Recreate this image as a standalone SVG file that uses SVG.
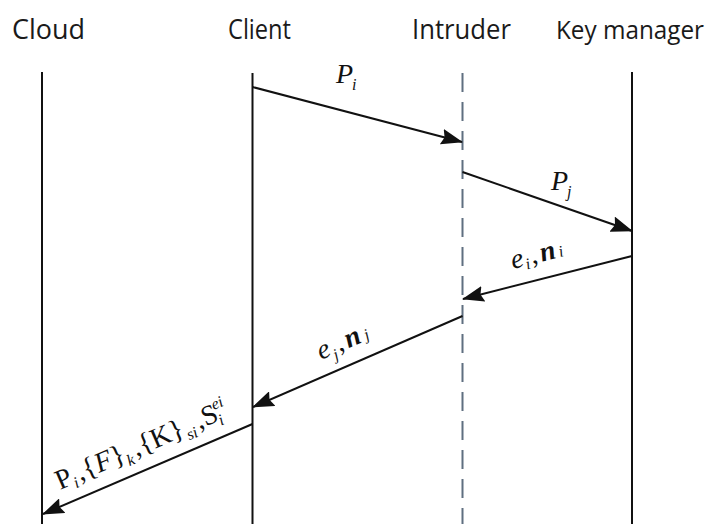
<svg xmlns="http://www.w3.org/2000/svg" width="718" height="524" viewBox="0 0 718 524">
  <style>
    .title { font-family: "Open Sans", "Liberation Sans", sans-serif; font-size: 27px; fill: #1a1a1a; }
    .life { stroke: #111; stroke-width: 2; fill: none; }
    .dash { stroke: #5f6f80; stroke-width: 2; stroke-dasharray: 19 10; fill: none; }
    .msg { stroke: #111; stroke-width: 2; fill: none; marker-end: url(#head); }
    .m { font-family: "Liberation Serif", "Times New Roman", serif; font-style: italic; font-size: 28px; fill: #111; }
    .s { font-size: 16px; }
    .u { font-style: normal; }
    .b { font-weight: bold; }
  </style>
  <defs>
    <marker id="head" viewBox="0 0 22 16" markerWidth="22" markerHeight="16" refX="21" refY="8" orient="auto" markerUnits="userSpaceOnUse">
      <path d="M0,0 L22,8 L0,16 L3,8 z" fill="#111"/>
    </marker>
  </defs>

  <rect width="718" height="524" fill="#fff"/>

  <!-- participants with lifelines -->
  <g id="cloud">
    <text class="title" x="12" y="39" textLength="73" lengthAdjust="spacingAndGlyphs">Cloud</text>
    <line class="life" x1="42" y1="72" x2="42" y2="524"/>
  </g>
  <g id="client">
    <text class="title" x="228" y="39" textLength="63" lengthAdjust="spacingAndGlyphs">Client</text>
    <line class="life" x1="252.5" y1="73" x2="252.5" y2="524"/>
  </g>
  <g id="intruder">
    <text class="title" x="412" y="39" textLength="99" lengthAdjust="spacingAndGlyphs">Intruder</text>
    <line class="dash" x1="462.5" y1="73" x2="462.5" y2="524"/>
  </g>
  <g id="key-manager">
    <text class="title" x="556" y="39" style="font-size:25.5px" textLength="148" lengthAdjust="spacingAndGlyphs">Key manager</text>
    <line class="life" x1="632" y1="72" x2="632" y2="524"/>
  </g>

  <!-- messages -->
  <g id="connectors">
    <line class="msg" x1="252.5" y1="87" x2="462" y2="142"/>
    <line class="msg" x1="462.5" y1="172" x2="632" y2="231"/>
    <line class="msg" x1="632" y1="256" x2="463" y2="299"/>
    <line class="msg" x1="462.5" y1="316" x2="253" y2="407"/>
    <line class="msg" x1="252.5" y1="424" x2="43" y2="514"/>
  </g>

  <!-- message labels -->
  <g id="labels">
    <text class="m" x="336" y="83">P<tspan class="s" dx="-1" dy="7">i</tspan></text>
    <text class="m" x="551" y="190">P<tspan class="s" dx="-1" dy="7">j</tspan></text>
    <g transform="translate(513,269) rotate(-14.2)">
      <text class="m" x="0" y="0">e<tspan class="s" dx="1" dy="4">i</tspan><tspan class="u" dy="-4" dx="2">,</tspan><tspan class="b" dx="3">n</tspan><tspan class="s" dx="3" dy="0">i</tspan></text>
    </g>
    <g transform="translate(321,360) rotate(-23.4)">
      <text class="m" x="0" y="0">e<tspan class="s" dx="1" dy="6">j</tspan><tspan class="u" dy="-6" dx="2">,</tspan><tspan class="b" dx="3">n</tspan><tspan class="s" dx="4" dy="0">j</tspan></text>
    </g>
    <g transform="translate(60,490) rotate(-23.5)">
      <text class="m" x="0" y="0" style="font-style:normal;font-size:28px">P<tspan class="s" dy="5" style="font-style:italic">i</tspan><tspan dy="-5" dx="2">,{</tspan><tspan style="font-style:italic">F</tspan><tspan>}</tspan><tspan class="s" dy="6" style="font-style:italic">k</tspan><tspan dy="-6" dx="3">,{K}</tspan><tspan class="s" dy="6" dx="1" style="font-style:italic">si</tspan><tspan dy="-6" dx="3">,S</tspan><tspan class="s" dy="5" dx="-1" style="font-style:italic">i</tspan><tspan class="s" dy="-17" dx="-5" style="font-style:italic">ei</tspan></text>
    </g>
  </g>
</svg>
